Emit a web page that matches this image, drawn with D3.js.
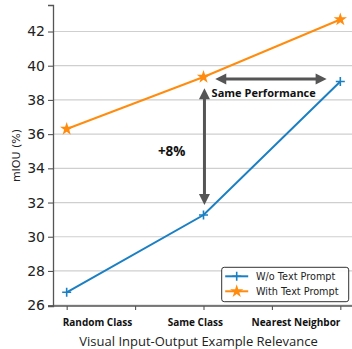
<!DOCTYPE html>
<html>
<head>
<meta charset="utf-8">
<script src="https://cdn.jsdelivr.net/npm/d3@7/dist/d3.min.js"></script>
<style>
  html, body { margin: 0; padding: 0; background: #fff; }
  svg { display: block; }
</style>
</head>
<body>
<svg id="chart" width="352" height="349"></svg>
<script>
// Categories and series
const categories = ["Random Class", "Same Class", "Nearest Neighbor"];
const woTextPrompt = [26.75, 31.27, 39.08];
const withTextPrompt = [36.3, 39.34, 42.7];
const yTicks = [26, 28, 30, 32, 34, 36, 38, 40, 42];
const xTicks = [0, 0.5, 1, 1.5, 2];
// Category label anchor positions along the index axis
const labelPos = [0.225, 0.94, 1.676];
const seriesNames = ["W/o Text Prompt", "With Text Prompt"];

const BLUE = "#1a7fc3";
const ORANGE = "#ff8c0f";
const ARROW = "#555555";

const W = 352, H = 349;
const plotLeft = 53, plotTop = 5, plotBottom = 306, plotRight = 354;

const svg = d3.select("#chart");

const x = d3.scaleLinear().domain([-0.1, 2.1]).range([plotLeft, plotRight]);
const y = d3.scaleLinear().domain([25.95, 43.55]).range([plotBottom, plotTop]);

// Horizontal grid
svg.append("g").selectAll("line").data(yTicks).join("line")
  .attr("x1", plotLeft).attr("x2", W)
  .attr("y1", d => y(d)).attr("y2", d => y(d))
  .attr("stroke", "#cfcfcf").attr("stroke-width", 1.2);

// Y axis
const yAxis = svg.append("g").attr("transform", `translate(${plotLeft},0)`)
  .call(d3.axisLeft(y).tickValues(yTicks).tickSize(5).tickPadding(3).tickFormat(d3.format("d")));
yAxis.select(".domain").attr("stroke", "#555").attr("stroke-width", 1.3);
yAxis.selectAll(".tick line").attr("stroke", "#555").attr("stroke-width", 1.1);
yAxis.selectAll(".tick text")
  .attr("font-family", "DejaVu Sans").attr("font-size", 14).attr("fill", "#222");

// X axis (ticks only; category labels drawn separately)
const xAxis = svg.append("g").attr("transform", `translate(0,${plotBottom})`)
  .call(d3.axisBottom(x).tickValues(xTicks).tickSize(4).tickFormat(""));
xAxis.select(".domain").attr("stroke", "#555").attr("stroke-width", 1.3)
  .attr("d", `M${plotLeft},0H${W}`);
xAxis.selectAll(".tick line").attr("stroke", "#555").attr("stroke-width", 1.1);

svg.append("g").selectAll("text").data(categories).join("text")
  .attr("x", (d, i) => x(labelPos[i]))
  .attr("y", 326)
  .attr("text-anchor", "middle")
  .attr("font-family", "Open Sans").attr("font-weight", "bold")
  .attr("font-size", 10).attr("fill", "#111")
  .text(d => d);

// Axis titles
svg.append("text")
  .attr("x", 198.5).attr("y", 345.5)
  .attr("text-anchor", "middle")
  .attr("font-family", "Open Sans").attr("font-size", 13).attr("fill", "#222")
  .text("Visual Input-Output Example Relevance");

svg.append("text")
  .attr("transform", `translate(20,${(plotTop + plotBottom) / 2}) rotate(-90)`)
  .attr("text-anchor", "middle")
  .attr("font-family", "DejaVu Sans").attr("font-size", 11).attr("fill", "#222")
  .text("mIOU (%)");

// Series lines
const line = d3.line().x((d, i) => x(i)).y(d => y(d));
svg.append("path").datum(woTextPrompt).attr("d", line)
  .attr("fill", "none").attr("stroke", BLUE).attr("stroke-width", 2);
svg.append("path").datum(withTextPrompt).attr("d", line)
  .attr("fill", "none").attr("stroke", ORANGE).attr("stroke-width", 2);

// Markers
const plusPath = s => `M${-s},0H${s}M0,${-s}V${s}`;
const starSym = d3.symbol().type(d3.symbolStar).size(55);

svg.append("g").selectAll("path").data(woTextPrompt).join("path")
  .attr("transform", (d, i) => `translate(${x(i)},${y(d)})`)
  .attr("d", plusPath(4.5))
  .attr("stroke", BLUE).attr("stroke-width", 1.6).attr("fill", "none");

svg.append("g").selectAll("path").data(withTextPrompt).join("path")
  .attr("transform", (d, i) => `translate(${x(i)},${y(d)})`)
  .attr("d", starSym())
  .attr("fill", ORANGE);

// Double-headed arrows
function doubleArrow(x1, y1, x2, y2) {
  const g = svg.append("g");
  const dx = x2 - x1, dy = y2 - y1, len = Math.hypot(dx, dy);
  const ux = dx / len, uy = dy / len;
  const hl = 11, hw = 5.5;
  g.append("line")
    .attr("x1", x1 + ux * hl * 0.8).attr("y1", y1 + uy * hl * 0.8)
    .attr("x2", x2 - ux * hl * 0.8).attr("y2", y2 - uy * hl * 0.8)
    .attr("stroke", ARROW).attr("stroke-width", 3);
  const head = (tx, ty, sx, sy) => {
    const bx = tx - sx * hl, by = ty - sy * hl;
    return `M${tx},${ty}L${bx - sy * hw},${by + sx * hw}L${bx + sy * hw},${by - sx * hw}Z`;
  };
  g.append("path").attr("d", head(x2, y2, ux, uy)).attr("fill", ARROW);
  g.append("path").attr("d", head(x1, y1, -ux, -uy)).attr("fill", ARROW);
}

doubleArrow(x(1.007), y(38.68), x(1.007), y(31.86));
doubleArrow(x(1.086), y(39.22), x(1.90), y(39.22));

svg.append("text")
  .attr("x", x(1.44)).attr("y", y(38.41))
  .attr("dy", "0.35em").attr("text-anchor", "middle")
  .attr("font-family", "Open Sans").attr("font-weight", "bold")
  .attr("font-size", 11).attr("fill", "#111")
  .text("Same Performance");

svg.append("text")
  .attr("x", x(0.7675)).attr("y", y(35.0))
  .attr("dy", "0.35em").attr("text-anchor", "middle")
  .attr("font-family", "Open Sans").attr("font-weight", "bold")
  .attr("font-size", 13.5).attr("fill", "#111")
  .text("+8%");

// Legend
const lg = svg.append("g").attr("transform", "translate(221.7,267.3)");
lg.append("rect").attr("width", 127).attr("height", 34.4)
  .attr("rx", 2.5).attr("fill", "#fff").attr("fill-opacity", 0.9)
  .attr("stroke", "#333").attr("stroke-width", 1);
const colors = [BLUE, ORANGE];
seriesNames.forEach((name, i) => {
  const ry = 9 + i * 15;
  lg.append("line").attr("x1", 3.5).attr("x2", 26.5).attr("y1", ry).attr("y2", ry)
    .attr("stroke", colors[i]).attr("stroke-width", 2);
  if (i === 0) {
    lg.append("path").attr("transform", `translate(15,${ry})`).attr("d", plusPath(4.5))
      .attr("stroke", BLUE).attr("stroke-width", 1.6).attr("fill", "none");
  } else {
    lg.append("path").attr("transform", `translate(15,${ry})`).attr("d", starSym())
      .attr("fill", ORANGE);
  }
  lg.append("text").attr("x", 34.3).attr("y", ry).attr("dy", "0.35em")
    .attr("font-family", "DejaVu Sans").attr("font-size", 9.7).attr("fill", "#222")
    .text(name);
});
</script>
</body>
</html>
